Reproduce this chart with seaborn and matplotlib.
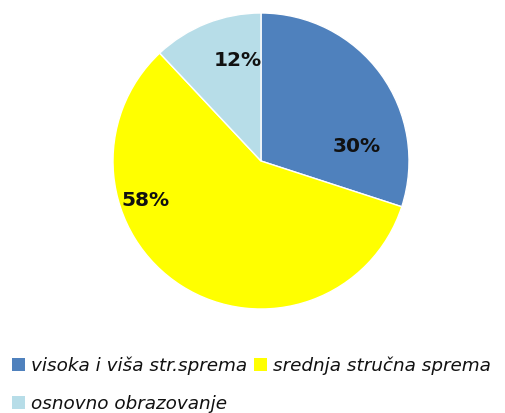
import matplotlib
matplotlib.use('Agg')
import matplotlib.pyplot as plt
import seaborn as sns
from matplotlib.patches import Patch

# podaci
kategorije = ['visoka i viša str.sprema', 'srednja stručna sprema', 'osnovno obrazovanje']
postotci = [30, 58, 12]
boje = ['#4F81BD', '#FFFF00', '#B7DDE8']
# polozaj oznaka (u koordinatama pite)
oznake_xy = [(0.65, 0.10), (-0.78, -0.27), (-0.16, 0.68)]

sns.set_style('white')
plt.rcParams['font.family'] = ['DejaVu Sans']
plt.rcParams['text.color'] = '#111111'
paleta = sns.color_palette(boje)

fig = plt.figure(figsize=(5.05, 4.13), dpi=100)
ax = fig.add_axes([(261 - 148) / 505, (413 - 309) / 413, 296 / 505, 296 / 413])

wedges, texts, autotexts = ax.pie(postotci, colors=paleta, startangle=90, counterclock=False,
                                  autopct='%1.0f%%', radius=1.0,
                                  textprops=dict(fontsize=14.5, fontweight='bold', color='#111111'))
for t in texts:
    t.set_visible(False)
for t, xy in zip(autotexts, oznake_xy):
    t.set_position(xy)
ax.set_aspect('equal')
ax.set_xlim(-1, 1)
ax.set_ylim(-1, 1)
ax.axis('off')

# legenda: stupac po stupac, pa redoslijed [0, 2, 1]
redoslijed = [0, 2, 1]
rucke = [Patch(facecolor=paleta[i], edgecolor='none') for i in redoslijed]
natpisi = [kategorije[i] for i in redoslijed]
fig.legend(rucke, natpisi, loc='upper left', bbox_to_anchor=(0.01, 0.155), ncol=2,
           frameon=False, prop=dict(size=13.2, style='italic'),
           handlelength=0.7, handleheight=0.7, handletextpad=0.3,
           columnspacing=0.4, labelspacing=1.1, borderaxespad=0)

fig.savefig('out.png', dpi=100)
